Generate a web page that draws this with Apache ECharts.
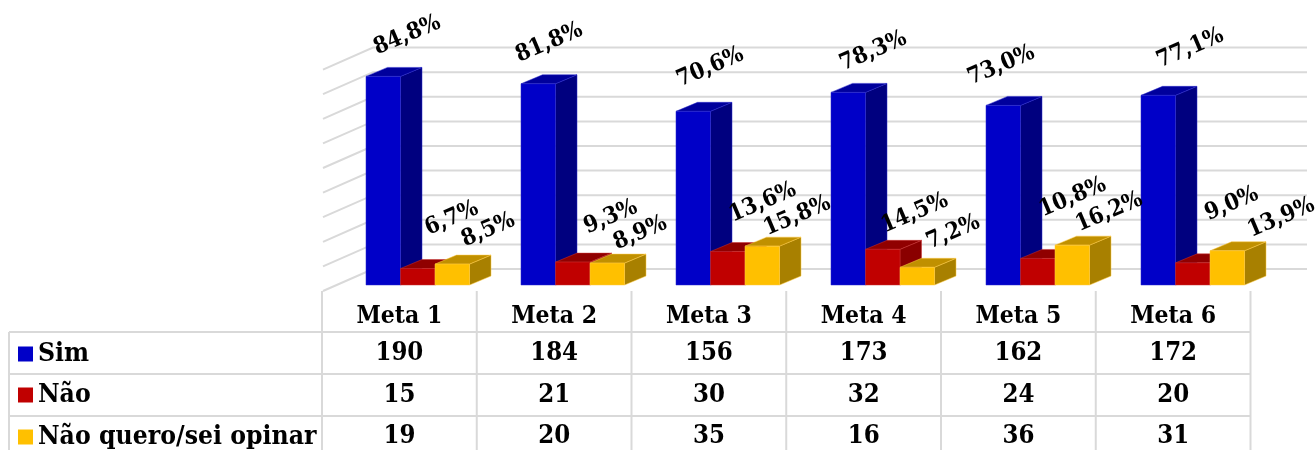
<!DOCTYPE html>
<html><head><meta charset="utf-8">
<style>html,body{margin:0;padding:0;background:#fff}#c{width:1315px;height:450px}</style>
<script src="https://cdn.jsdelivr.net/npm/echarts@6/dist/echarts.min.js"></script>
</head><body><div id="c"></div>
<script>
const categories = ['Meta 1','Meta 2','Meta 3','Meta 4','Meta 5','Meta 6'];
const simPct = [84.8,81.8,70.6,78.3,73.0,77.1];
const naoPct = [6.7,9.3,13.6,14.5,10.8,9.0];
const nsoPct = [8.5,8.9,15.8,7.2,16.2,13.9];
const simCount = [190,184,156,173,162,172];
const naoCount = [15,21,30,32,24,20];
const nsoCount = [19,20,35,16,36,31];
const seriesNames = ['Sim','Não','Não quero/sei opinar'];
const gridTicks = [0,10,20,30,40,50,60,70,80,90];

const FONT = '"DejaVu Serif Condensed", "DejaVu Serif", serif';
const GRID_C = '#d9d9d9';
const DX = 21.5, DY = -9;
const palette = [
  {front:'#0000C8', side:'#00007F', top:'#00009C', edge:'#2A2ACC'},
  {front:'#C00000', side:'#8A0000', top:'#900000', edge:'#C83030'},
  {front:'#FFC000', side:'#A88000', top:'#C09000', edge:'#FFC840'}
];
// label displacement from top-centre of each bar, [dx,dy] per category
const labelShift = [
  [[24,-41],[11,-41],[17,-44],[25,-41],[-2,-40],[32,-47]],
  [[34,-50],[38,-45],[35,-49],[32,-36],[35,-61],[39,-59]],
  [[36,-34],[33,-30],[35,-30],[36,-35],[37,-33],[54,-33]]
];
const fmt = v => v.toFixed(1).replace('.',',') + '%';

function barSeries(si, values){
  return {
    type:'custom', name:seriesNames[si], coordinateSystem:'cartesian2d', z:3+si,
    itemStyle:{color:palette[si].front},
    data: values.map((v,i)=>[i,v]),
    renderItem(params, api){
      const i = api.value(0), v = api.value(1);
      const p0 = api.coord([i,0]), p1 = api.coord([i,v]);
      const w = api.size([1,0])[0] * 0.2226;
      const x0 = p0[0] - w + si*w, x1 = x0 + w;
      const yb = p0[1], yt = p1[1];
      const c = palette[si];
      const poly = (pts,fill)=>({type:'polygon',shape:{points:pts},style:{fill,stroke:c.edge,lineWidth:0.5}});
      const sh = labelShift[si][i];
      return {type:'group',children:[
        poly([[x1,yb],[x1+DX,yb+DY],[x1+DX,yt+DY],[x1,yt]],c.side),
        poly([[x0,yt],[x0+DX,yt+DY],[x1+DX,yt+DY],[x1,yt]],c.top),
        poly([[x0,yb],[x1,yb],[x1,yt],[x0,yt]],c.front),
        {type:'text',x:(x0+x1)/2+sh[0],y:yt+sh[1],rotation:23*Math.PI/180,z2:50,
         style:{text:fmt(v),font:'bold 23px '+FONT,fill:'#000',align:'center',verticalAlign:'middle'}}
      ]};
    }
  };
}

const rowsY = [353.5,395.5,436.5];
const rowLines = [332,374,416];
const option = {
  animation:false,
  backgroundColor:'#fff',
  grid:[
    {left:323,top:63.6,width:930,height:221.4},
    {left:322,top:63.6,width:928.5,height:221.4}
  ],
  xAxis:[
    {type:'category',data:categories,gridIndex:0,show:false},
    {type:'category',data:categories,gridIndex:1,axisLine:{show:false},axisTick:{show:false},
     axisLabel:{interval:0,margin:19,color:'#000',fontFamily:FONT,fontWeight:'bold',fontSize:24.5,lineHeight:26}}
  ],
  yAxis:[
    {type:'value',min:0,max:90,interval:10,show:false,gridIndex:0},
    {type:'value',min:0,max:90,interval:10,show:false,gridIndex:1}
  ],
  legend: seriesNames.map((n,k)=>({
    data:[n],left:18,top:[341,382,424][k],itemWidth:15,itemHeight:15,itemGap:0,selectedMode:false,padding:0,
    icon:'rect',textStyle:{color:'#000',fontFamily:FONT,fontWeight:'bold',fontSize:26.3}
  })),
  series:[
    { // walls
      type:'custom',coordinateSystem:'cartesian2d',z:1,silent:true,
      data:gridTicks.map(v=>[v]),encode:{x:-1,y:0},
      renderItem(params,api){
        const v = api.value(0), cs = params.coordSys, y = api.coord([0,v])[1];
        return {type:'polyline',shape:{points:[[cs.x,y+6],[cs.x+50,y-16],[cs.x+cs.width+54,y-16]]},
          style:{stroke:GRID_C,lineWidth:2,fill:null}};
      }
    },
    { // table
      type:'custom',coordinateSystem:'cartesian2d',xAxisIndex:1,yAxisIndex:1,z:2,silent:true,
      data:categories.map((c,i)=>[i,simCount[i],naoCount[i],nsoCount[i]]),
      encode:{x:0,y:-1},
      renderItem(params,api){
        const i = api.value(0), w = api.size([1,0])[0];
        const cx = api.coord([i,0])[0], l = cx-w/2, r = cx+w/2;
        const line=(x1,y1,x2,y2)=>({type:'line',shape:{x1,y1,x2,y2},style:{stroke:GRID_C,lineWidth:2}});
        const ch=[line(l,291,l,450)];
        if(i===categories.length-1) ch.push(line(r,291,r,450));
        rowLines.forEach(y=>ch.push(line(l,y,r,y)));
        if(i===0) rowLines.forEach(y=>ch.push(line(9,y,l,y)));
        if(i===0) ch.push(line(9,332,9,450));
        [1,2,3].forEach((k,j)=>ch.push({type:'text',x:cx,y:rowsY[j],
          style:{text:String(api.value(k)),font:'bold 25.5px '+FONT,fill:'#000',align:'center',verticalAlign:'middle'}}));
        return {type:'group',children:ch};
      }
    },
    barSeries(0,simPct),barSeries(1,naoPct),barSeries(2,nsoPct)
  ]
};
const chart = echarts.init(document.getElementById('c'),null,{renderer:'canvas'});
chart.setOption(option);
</script></body></html>
